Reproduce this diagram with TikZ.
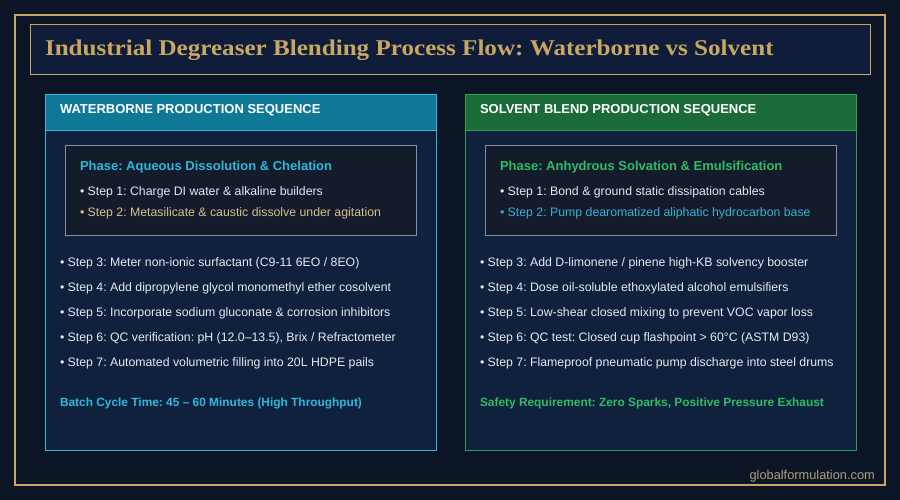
\documentclass[tikz,border=0pt]{standalone}
\usepackage{fontspec}
\setmainfont{Liberation Sans}
\newfontfamily\titlefont[FakeStretch=1.115]{Liberation Serif}
\frenchspacing
\definecolor{bgc}{HTML}{0B1526}
\definecolor{goldc}{HTML}{C8A860}
\definecolor{titlefill}{HTML}{0F1D3A}
\definecolor{panelfill}{HTML}{10213D}
\definecolor{tealhead}{HTML}{0F7896}
\definecolor{tealline}{HTML}{3CB4DC}
\definecolor{greenhead}{HTML}{1B6B38}
\definecolor{greenline}{HTML}{2E9E57}
\definecolor{phasefill}{HTML}{141B2B}
\definecolor{phaseline}{HTML}{8090A8}
\definecolor{cyantext}{HTML}{2EB8DC}
\definecolor{greentext}{HTML}{2EBD63}
\definecolor{steptext}{HTML}{E6E9EF}
\definecolor{stepgold}{HTML}{D8C08C}
\definecolor{stepcyan}{HTML}{3AB0D8}
\definecolor{footc}{HTML}{B0A07A}
\tikzset{
  txt/.style={anchor=base west, inner sep=0pt, outer sep=0pt},
  steptxt/.style={txt, text=steptext, font=\fontsize{12.3}{15}\selectfont},
  headtxt/.style={txt, text=white, font=\fontsize{13}{16}\selectfont\bfseries},
  phasetxt/.style={txt, font=\fontsize{13}{16}\selectfont\bfseries},
  notetxt/.style={txt, font=\fontsize{11.9}{15}\selectfont\bfseries},
}
\begin{document}
\begin{tikzpicture}[x=1pt,y=-1pt]
\useasboundingbox (0,0) rectangle (900,500);
\fill[bgc] (0,0) rectangle (900,500);
% outer frame
\draw[goldc, line width=2pt] (15,15) rectangle (885,485);
% title box
\draw[goldc, line width=1pt, fill=titlefill] (30,25) rectangle (870.5,75);
\node[txt, text=goldc, font=\titlefont\fontsize{22.5}{26}\selectfont\bfseries] (title) at (45,55.3) {Industrial Degreaser Blending Process Flow: Waterborne vs Solvent};

% left panel
\draw[tealline, line width=1pt, fill=panelfill] (45,95) rectangle (436,450.5);
\draw[tealline, line width=1pt, fill=tealhead] (45,95) rectangle (436,130.5);
\node[headtxt] (lh) at (60,114) {WATERBORNE PRODUCTION SEQUENCE};
\draw[phaseline, line width=0.8pt, fill=phasefill] (65,145) rectangle (416,235.5);
\node[phasetxt, text=cyantext] (lp) at (80,170.7) {Phase: Aqueous Dissolution \& Chelation};
\node[steptxt] (l1) at (80,196) {• Step 1: Charge DI water \& alkaline builders};
\node[steptxt, text=stepgold] (l2) at (80,216) {• Step 2: Metasilicate \& caustic dissolve under agitation};
\node[steptxt] (l3) at (60,266.7) {• Step 3: Meter non-ionic surfactant (C9-11 6EO / 8EO)};
\node[steptxt] (l4) at (60,291.7) {• Step 4: Add dipropylene glycol monomethyl ether cosolvent};
\node[steptxt] (l5) at (60,316.7) {• Step 5: Incorporate sodium gluconate \& corrosion inhibitors};
\node[steptxt] (l6) at (60,341.7) {• Step 6: QC verification: pH (12.0–13.5), Brix / Refractometer};
\node[steptxt] (l7) at (60,366.7) {• Step 7: Automated volumetric filling into 20L HDPE pails};
\node[notetxt, text=cyantext] (ln) at (60,406.7) {Batch Cycle Time: 45 – 60 Minutes (High Throughput)};

% right panel
\draw[greenline, line width=1pt, fill=panelfill] (465,95) rectangle (856,450.5);
\draw[greenline, line width=1pt, fill=greenhead] (465,95) rectangle (856,130.5);
\node[headtxt] (rh) at (480,114) {SOLVENT BLEND PRODUCTION SEQUENCE};
\draw[phaseline, line width=0.8pt, fill=phasefill] (485,145) rectangle (836,235.5);
\node[phasetxt, text=greentext] (rp) at (500,170.7) {Phase: Anhydrous Solvation \& Emulsification};
\node[steptxt] (r1) at (500,196) {• Step 1: Bond \& ground static dissipation cables};
\node[steptxt, text=stepcyan] (r2) at (500,216) {• Step 2: Pump dearomatized aliphatic hydrocarbon base};
\node[steptxt] (r3) at (480,266.7) {• Step 3: Add D-limonene / pinene high-KB solvency booster};
\node[steptxt] (r4) at (480,291.7) {• Step 4: Dose oil-soluble ethoxylated alcohol emulsifiers};
\node[steptxt] (r5) at (480,316.7) {• Step 5: Low-shear closed mixing to prevent VOC vapor loss};
\node[steptxt] (r6) at (480,341.7) {• Step 6: QC test: Closed cup flashpoint > 60°C (ASTM D93)};
\node[steptxt] (r7) at (480,366.7) {• Step 7: Flameproof pneumatic pump discharge into steel drums};
\node[notetxt, text=greentext] (rn) at (480,406.7) {Safety Requirement: Zero Sparks, Positive Pressure Exhaust};

% footer
\node[anchor=base east, inner sep=0pt, text=footc, font=\fontsize{12.8}{15}\selectfont] (foot) at (875,479) {globalformulation.com};
\end{tikzpicture}
\end{document}
